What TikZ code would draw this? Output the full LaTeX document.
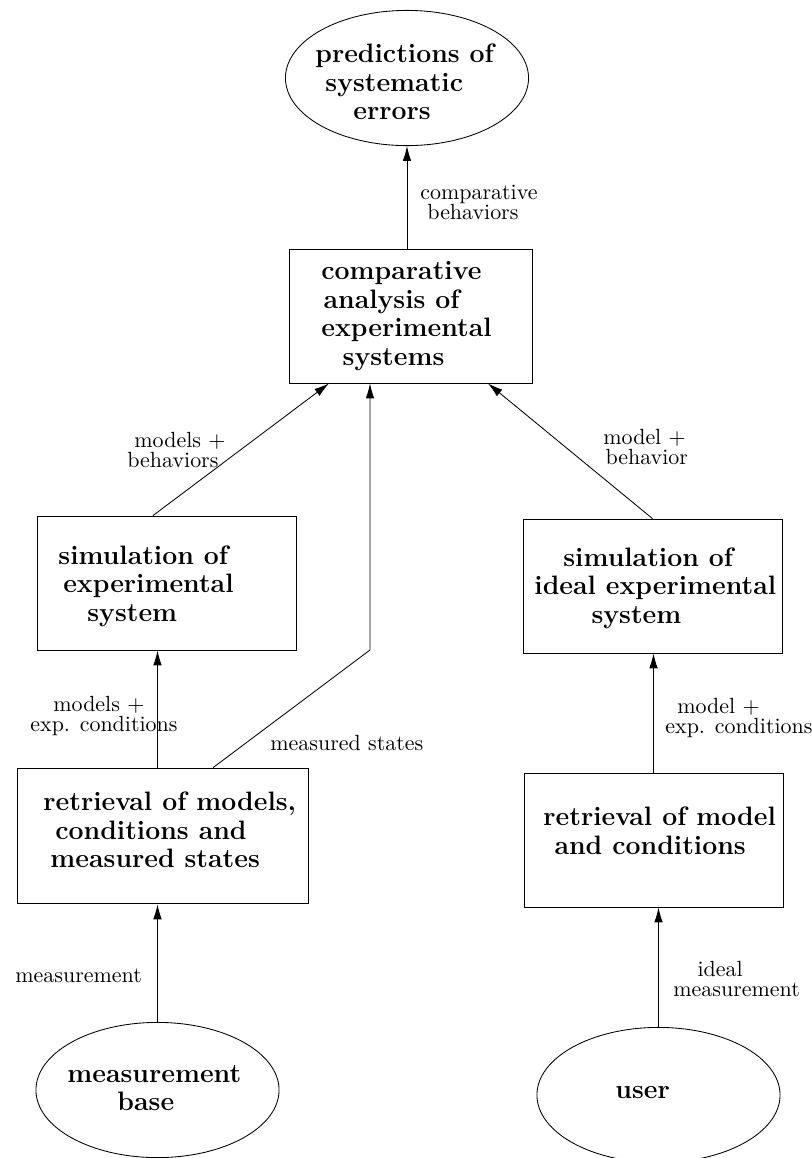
\documentclass[tikz,border=0pt]{standalone}
\usepackage{tikz}
\usetikzlibrary{shapes.geometric, arrows.meta, positioning, calc}

\begin{document}
\begin{tikzpicture}[x=0.0165cm, y=-0.0165cm,
    >={Latex[length=7pt,width=4pt]},
    box/.style={draw, rectangle, inner sep=0pt},
    oval/.style={draw, ellipse, inner sep=0pt, minimum width=4.01cm, minimum height=2.23cm},
    title/.style={align=left, anchor=west, inner sep=0pt, font=\fontsize{12.5}{13.4}\selectfont\bfseries},
    lbl/.style={align=left, anchor=west, inner sep=0pt, font=\fontsize{10.3}{9.3}\selectfont}]
\useasboundingbox (0,0) rectangle (812,1158);

% Predictions
\node[oval] (pred) at (407,78) {};
\node[title] (predtxt) at (315,82) {predictions of\\\hspace*{4.7pt}systematic\\\hspace*{17.8pt}errors};

% Comparative analysis
\node[box, minimum width=4.01cm, minimum height=2.21cm] (comp) at (410.5,316) {};
\node[title] (comptxt) at (321,316) {comparative\\\hspace*{1pt}analysis of\\experimental\\\hspace*{10pt}systems};

% Simulations
\node[box, minimum width=4.27cm, minimum height=2.21cm] (simexp) at (166.5,583) {};
\node[title] (simexptxt) at (58,586) {simulation of\\\hspace*{2.3pt}experimental\\\hspace*{13.6pt}system};
\node[box, minimum width=4.27cm, minimum height=2.21cm] (simideal) at (652.5,586) {};
\node[title] (simidealtxt) at (534,588) {\hspace*{13.6pt}simulation of\\ideal experimental\\\hspace*{26.8pt}system};

% Retrieval
\node[box, minimum width=4.80cm, minimum height=2.24cm] (retexp) at (162.5,836) {};
\node[title] (retexptxt) at (43,830) {retrieval of models,\\\hspace*{5.6pt}conditions and\\\hspace*{3.3pt}measured states};
\node[box, minimum width=4.27cm, minimum height=2.21cm] (retideal) at (653.5,840) {};
\node[title] (retidealtxt) at (543,831) {retrieval of model\\\hspace*{5.2pt}and conditions};

% Sources
\node[oval] (base) at (157.5,1090) {};
\node[title] (basetxt) at (67,1088) {measurement\\\hspace*{23.5pt}base};
\node[oval] (user) at (658.5,1095) {};
\node[title] (usertxt) at (615,1093) {user};

% Flows
\draw[->] (pred.south |- comp.north) -- (pred.south);
\draw[->] ($(simexp.north)+(-13.5,0)$) -- ($(comp.south)+(-81.5,0)$);
\draw[->] (simideal.north) -- ($(comp.south)+(77.5,0)$);
\coordinate (kink) at (370,650);
\draw[->] ($(retexp.north)+(50.5,0)$) -- (kink) -- ($(comp.south)+(-40.5,0)$);
\draw[->] (retexp.north -| base.north) -- (simexp.south -| base.north);
\draw[->] (retideal.north) -- (simideal.south -| retideal.north);
\draw[->] (base.north) -- (retexp.south -| base.north);
\draw[->] (user.north) -- (retideal.south -| user.north);

% Flow labels
\node[lbl] (lblcomp) at (420,202) {comparative\\\hspace*{3.3pt}behaviors};
\node[lbl] (lblmodels) at (127,450) {\hspace*{3.3pt}models +\\behaviors};
\node[lbl] (lblmodel) at (603,447) {model +\\\hspace*{1pt}behavior};
\node[lbl] (lblcond) at (30,716) {\hspace*{10.8pt}models +\\exp. conditions};
\node[lbl] (lblstates) at (270,743) {measured states};
\node[lbl] (lblidealcond) at (665,718) {\hspace*{5.6pt}model +\\exp. conditions};
\node[lbl] (lblmeas) at (15,976) {measurement};
\node[lbl] (lblideal) at (673,979) {\hspace*{11.3pt}ideal\\measurement};
\end{tikzpicture}
\end{document}
